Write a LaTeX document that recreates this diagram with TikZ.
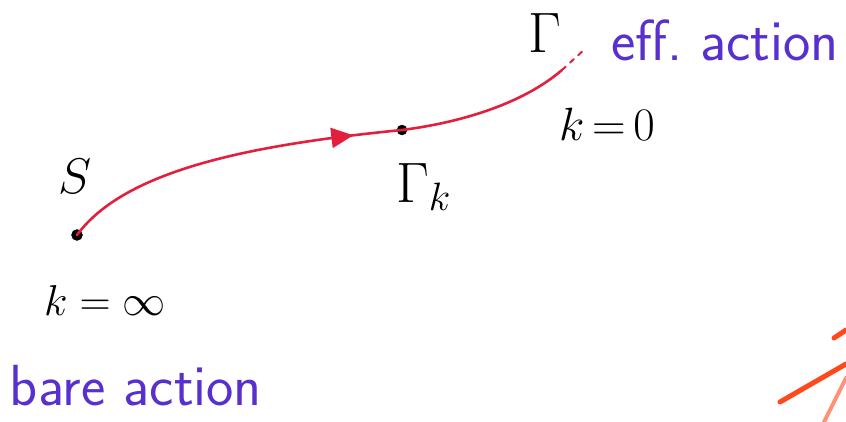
\documentclass[tikz,border=0pt]{standalone}
\usepackage{xcolor}
\usepackage{amsmath}
\usepackage{graphicx}
\usepackage{tikz}
\usetikzlibrary{arrows.meta, positioning, decorations.markings}
\definecolor{flowred}{RGB}{226,32,62}
\definecolor{inkblue}{RGB}{88,48,206}
\definecolor{markorange}{RGB}{255,72,28}
\newcommand{\bigmath}[2][2.5]{\scalebox{#1}{\fontsize{17.28}{20}\selectfont$#2$}}
\tikzset{
  point/.style={
    draw, circle, fill=black, inner sep=0pt,
    minimum size=11pt
  },
  mathlabel/.style={inner sep=0pt},
  textlabel/.style={font=\fontsize{58}{64}\selectfont\sffamily, text=inkblue, inner sep=0pt},
  flow/.style={draw=flowred, line width=2.6pt, line cap=round},
  midarrow/.style={postaction={decorate}, decoration={markings,
    mark=at position 0.86 with {\arrow[flowred]{Triangle[length=22pt, width=20pt]}}}}
}

\begin{document}
\begin{tikzpicture}[x=1pt, y=-1pt]
  \useasboundingbox (0,0) rectangle (846,422);

  \node[point] (bare) at (77,235) {};
  \node[point, minimum size=10pt] (gk) at (402,130) {};
  \coordinate (solidend) at (562,70);
  \coordinate (tip) at (586,48);

  % S -> Gamma_k -> Gamma
  \draw[flow, midarrow] (bare.center) .. controls (125,170) and (250,145) .. (gk.center);
  \draw[flow] (gk.center) .. controls (465,122) and (525,102) .. (solidend);
  \draw[flow, line width=2pt, dash pattern=on 5pt off 6pt] (solidend) -- (tip);

  % labels
  \node[mathlabel] (s) at (75,176) {\bigmath[2.9]{S}};
  \node[mathlabel] (kinf) at (105,300) {\bigmath{k = \infty}};
  \node[textlabel] (bareact) at (136,386) {bare action};
  \node[mathlabel] (gamk) at (424,187) {\bigmath[3.3]{\Gamma_{k}}};
  \node[mathlabel] (kzero) at (607,124) {\bigmath[2.7]{k\,{=}\,0}};
  \node[mathlabel] (gam) at (545,33) {\bigmath[3.3]{\Gamma}};
  \node[textlabel] (effact) at (725,40) {eff.\ action};

  % cut-off strokes at the border
  \draw[markorange, line width=5pt, line cap=round] (780,402) -- (846,364);
  \draw[markorange, line width=5pt, line cap=round] (834,338) -- (846,330);
  \draw[markorange!60, line width=4pt, line cap=round] (824,422) -- (846,378);
\end{tikzpicture}
\end{document}
